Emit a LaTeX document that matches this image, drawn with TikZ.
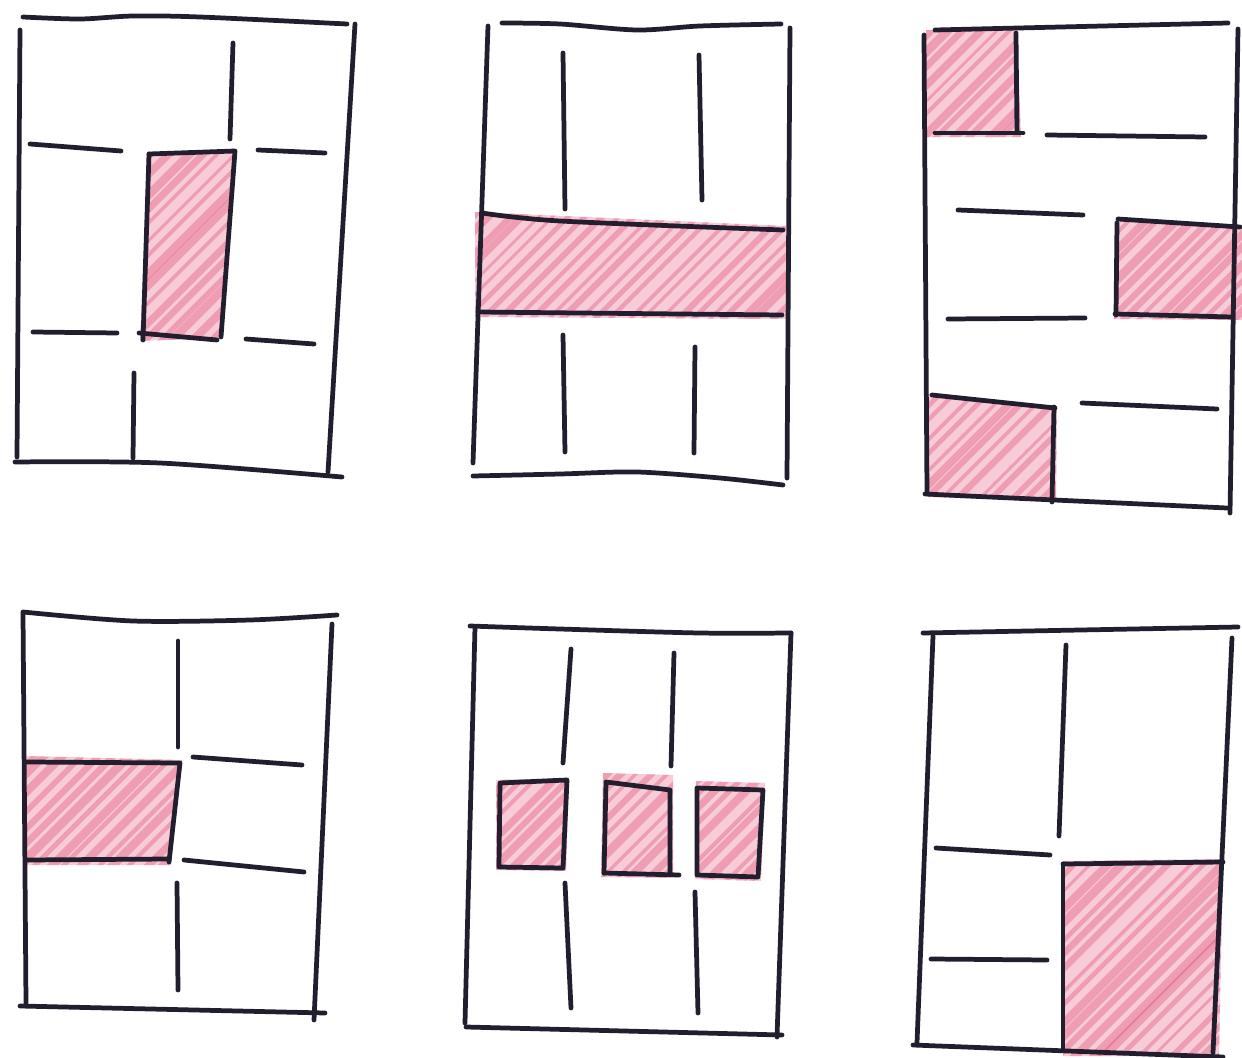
\documentclass[tikz,border=0pt]{standalone}
\usetikzlibrary{calc}
\definecolor{crayon}{RGB}{247,204,216}
\definecolor{crayondark}{RGB}{218,50,92}
\definecolor{ink}{RGB}{35,30,45}
\tikzset{
  pen/.style={draw=ink, line width=2.7pt, line cap=round, line join=round},
  crayonfill/.style={fill=crayon},
  crayonline/.style={draw=crayondark, opacity=0.3, line cap=round}
}
\newcommand\crayonpatch[1]{%
  \fill[crayonfill] #1;
  \begin{scope}
    \clip #1;
    \foreach \k in {0,...,150}{%
      \pgfmathsetmacro\off{\k*16+rnd*8}%
      \pgfmathsetmacro\wid{1.5+rnd*3.5}%
      \draw[crayonline, line width=\wid pt] (\off,0) -- ++(-1100,1100);}
  \end{scope}}
\begin{document}
\begin{tikzpicture}[x=0.02cm,y=-0.02cm]
\pgfmathsetseed{7}
\useasboundingbox[fill=white] (0,0) rectangle (1242,1058);

% ---------- red patches ----------
\crayonpatch{(149,154)--(236,150)--(222,338)--(140,341)--cycle}
\crayonpatch{(475,212)--(786,226)--(786,319)--(475,317)--cycle}
\crayonpatch{(926,30)--(1017,30)--(1021,137)--(926,137)--cycle}
\crayonpatch{(1116,219)--(1242,226)--(1242,320)--(1114,319)--cycle}
\crayonpatch{(928,394)--(1057,406)--(1056,501)--(928,497)--cycle}
\crayonpatch{(25,756)--(182,760)--(171,865)--(24,865)--cycle}
\crayonpatch{(496,780)--(569,778)--(566,871)--(496,870)--cycle}
\crayonpatch{(603,773)--(673,775)--(673,878)--(601,877)--cycle}
\crayonpatch{(696,781)--(765,783)--(761,881)--(695,879)--cycle}
\crayonpatch{(1063,861)--(1223,859)--(1219,1056)--(1063,1056)--cycle}

% ---------- panel 1 ----------
\draw[pen] plot[smooth] coordinates {(23,17) (80,19) (133,16) (200,17) (347,24)};
\draw[pen] (20,30) -- (17,457);
\draw[pen] (355,24) -- (328,472);
\draw[pen] plot[smooth] coordinates {(15,462) (160,463) (342,477)};
\draw[pen] (233,43) -- (230,139);
\draw[pen] (30,144) -- (121,151);
\draw[pen] (258,150) -- (325,153);
\draw[pen] (149,154) -- (235,151) -- (221,337);
\draw[pen] (149,154) -- (143,340);
\draw[pen] (139,333) -- (217,340);
\draw[pen] (33,332) -- (117,333);
\draw[pen] (246,339) -- (314,344);
\draw[pen] (134,373) -- (133,458);

% ---------- panel 2 ----------
\draw[pen] plot[smooth] coordinates {(502,23) (560,24) (637,30) (700,26) (781,24)};
\draw[pen] (488,26) -- (473,463);
\draw[pen] (790,28) -- (787,478);
\draw[pen] plot[smooth] coordinates {(473,476) (560,474) (637,472) (720,478) (783,485)};
\draw[pen] (563,53) -- (565,209);
\draw[pen] (699,55) -- (702,200);
\draw[pen] plot[smooth] coordinates {(482,213) (560,221) (783,230)};
\draw[pen] (478,312) -- (782,315);
\draw[pen] (563,335) -- (565,452);
\draw[pen] (695,347) -- (694,453);

% ---------- panel 3 ----------
\draw[pen] (935,30) -- (1228,23);
\draw[pen] (924,35) -- (927,493);
\draw[pen] (1238,29) -- (1230,513);
\draw[pen] (925,494) -- (1227,508);
\draw[pen] (1016,33) -- (1017,132);
\draw[pen] (935,133) -- (1023,133);
\draw[pen] (1047,135) -- (1205,137);
\draw[pen] (958,210) -- (1083,215);
\draw[pen] (1118,219) -- (1240,227);
\draw[pen] (1117,223) -- (1116,315);
\draw[pen] (1115,314) -- (1232,317);
\draw[pen] (948,319) -- (1085,318);
\draw[pen] (932,395) -- (1055,408);
\draw[pen] (1054,407) -- (1052,502);
\draw[pen] (1082,403) -- (1217,409);

% ---------- panel 4 ----------
\draw[pen] plot[smooth] coordinates {(23,612) (133,621) (250,620) (337,615)};
\draw[pen] (23,613) -- (26,1003);
\draw[pen] (332,624) -- (314,1020);
\draw[pen] (20,1006) -- (325,1013);
\draw[pen] (178,641) -- (178,747);
\draw[pen] (193,757) -- (302,765);
\draw[pen] (27,762) -- (180,763) -- (169,862);
\draw[pen] (27,860) -- (169,859);
\draw[pen] (184,860) -- (304,872);
\draw[pen] (177,883) -- (178,990);

% ---------- panel 5 ----------
\draw[pen] plot[smooth] coordinates {(470,626) (560,629) (700,633) (791,633)};
\draw[pen] (791,633) -- (777,1037);
\draw[pen] (475,627) -- (465,1023);
\draw[pen] (466,1027) -- (782,1035);
\draw[pen] (571,649) -- (563,763);
\draw[pen] (674,653) -- (671,766);
\draw[pen] (500,783) -- (567,780) -- (563,868) -- (499,867) -- cycle;
\draw[pen] (604,873) -- (606,782) -- (670,790) -- (670,874);
\draw[pen] (604,873) -- (679,875);
\draw[pen] (697,788) -- (763,790) -- (758,877) -- (697,875) -- cycle;
\draw[pen] (565,883) -- (571,1008);
\draw[pen] (695,892) -- (698,1013);

% ---------- panel 6 ----------
\draw[pen] (923,633) -- (1238,627);
\draw[pen] (933,636) -- (917,1043);
\draw[pen] (1232,638) -- (1213,1053);
\draw[pen] (913,1045) -- (1223,1057);
\draw[pen] (1066,645) -- (1059,836);
\draw[pen] (936,848) -- (1050,855);
\draw[pen] (1063,864) -- (1223,862);
\draw[pen] (1063,864) -- (1063,1050);
\draw[pen] (931,959) -- (1047,960);
\end{tikzpicture}
\end{document}
